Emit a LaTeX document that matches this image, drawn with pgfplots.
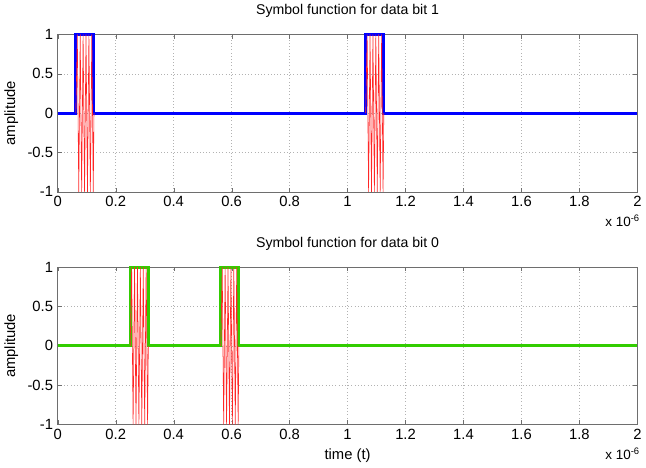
\documentclass[border=0pt]{standalone}
\usepackage{pgfplots}
\pgfplotsset{compat=1.18}
\usepackage{fontspec}
\setmainfont{Liberation Sans}

\definecolor{mgreen}{RGB}{50,205,0}
\definecolor{axgray}{RGB}{110,110,110}

\pgfplotsset{
  sigax/.style={
    scale only axis,
    width=431pt, height=117pt,
    xmin=0, xmax=2, ymin=-1, ymax=1,
    xtick={0,0.2,...,2}, ytick={-1,-0.5,0,0.5,1},
    grid=major,
    grid style={dotted, gray!60},
    axis line style={axgray},
    tick style={axgray},
    tick align=inside,
    major tick length=3pt,
    tick label style={font=\fontsize{11}{12}\selectfont},
    label style={font=\fontsize{11}{12}\selectfont},
    title style={font=\fontsize{10.5}{12}\selectfont, yshift=3pt},
    /pgf/number format/assume math mode=true,
    clip=false,
  }
}

\begin{document}
\begin{tikzpicture}
% data bit 1
\begin{axis}[sigax, at={(0,0)}, anchor=north west,
    title={Symbol function for data bit 1},
    ylabel={amplitude}]
  \addplot[blue, line width=2.2pt] coordinates {
    (0,0) (0.0625,0) (0.0625,1) (0.125,1) (0.125,0)
    (1.0625,0) (1.0625,1) (1.125,1) (1.125,0) (2,0)};
  \addplot[red!85, line width=0.45pt] coordinates {
    (0.0625,0) (0.0675,1) (0.0725,-1) (0.0775,1) (0.0825,-1) (0.0875,1) (0.0925,-1)
    (0.0975,1) (0.1025,-1) (0.1075,1) (0.1125,-1) (0.1175,1) (0.1225,-1) (0.125,0)};
  \addplot[red!85, line width=0.45pt] coordinates {
    (1.0625,0) (1.0675,1) (1.0725,-1) (1.0775,1) (1.0825,-1) (1.0875,1) (1.0925,-1)
    (1.0975,1) (1.1025,-1) (1.1075,1) (1.1125,-1) (1.1175,1) (1.1225,-1) (1.125,0)};
  \node[anchor=north east, font=\fontsize{10}{11}\selectfont, inner sep=0pt]
    at ([yshift=-17pt, xshift=2pt]rel axis cs:1,0) {x 10\textsuperscript{-6}};
\end{axis}
% data bit 0
\begin{axis}[sigax, at={(0,-173pt)}, anchor=north west,
    title={Symbol function for data bit 0},
    ylabel={amplitude}, xlabel={time (t)}]
  \addplot[mgreen, line width=2.2pt] coordinates {
    (0,0) (0.25,0) (0.25,1) (0.3125,1) (0.3125,0)
    (0.5625,0) (0.5625,1) (0.625,1) (0.625,0) (2,0)};
  \addplot[red!85, line width=0.45pt] coordinates {
    (0.25,0) (0.255,1) (0.26,-1) (0.265,1) (0.27,-1) (0.275,1) (0.28,-1)
    (0.285,1) (0.29,-1) (0.295,1) (0.30,-1) (0.305,1) (0.31,-1) (0.3125,0)};
  \addplot[red!85, line width=0.45pt] coordinates {
    (0.5625,0) (0.5675,1) (0.5725,-1) (0.5775,1) (0.5825,-1) (0.5875,1) (0.5925,-1)
    (0.5975,1) (0.6025,-1) (0.6075,1) (0.6125,-1) (0.6175,1) (0.6225,-1) (0.625,0)};
  \node[anchor=north east, font=\fontsize{10}{11}\selectfont, inner sep=0pt]
    at ([yshift=-17pt, xshift=2pt]rel axis cs:1,0) {x 10\textsuperscript{-6}};
\end{axis}
\end{tikzpicture}
\end{document}
